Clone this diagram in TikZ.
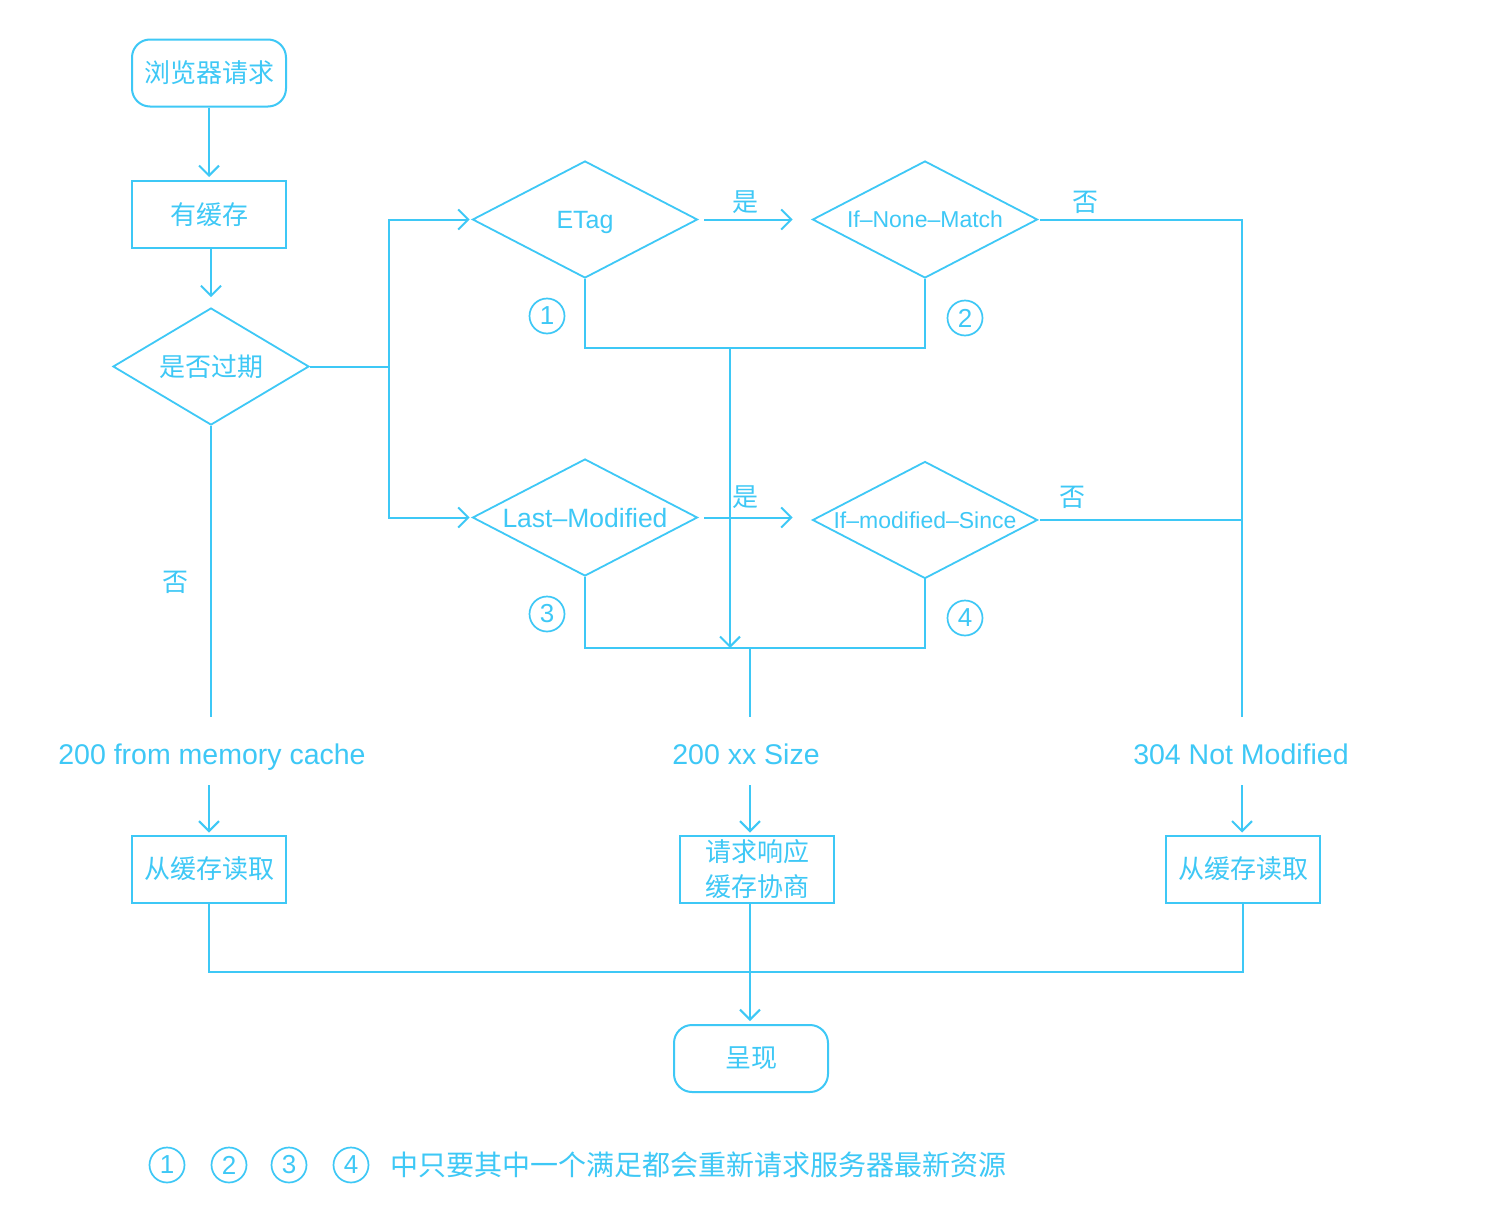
\documentclass[tikz,border=0pt]{standalone}
\usepackage{fontspec}
\setmainfont{Liberation Sans}
\newfontfamily\cjk{Noto Sans CJK SC}
\usetikzlibrary{shapes.geometric,arrows.meta}
\definecolor{flow}{RGB}{62,200,246}

\begin{document}
\begin{tikzpicture}[x=1pt,y=-1pt,
  every node/.style={text=flow},
  ln/.style={draw=flow, line width=2pt},
  arr/.style={ln, -{Straight Barb[length=10pt,width=20pt]}},
  cn/.style={font=\cjk\fontsize{26}{35}\selectfont},
  en/.style={font=\fontsize{28.5}{34}\selectfont},
  box/.style={draw=flow, line width=2pt, minimum width=154pt, minimum height=67pt, inner sep=0pt, cn},
  rbox/.style={box, rounded corners=18pt},
  dia/.style={diamond, draw=flow, line width=1.8pt, inner sep=0pt, aspect=1.92,
              minimum width=225pt, minimum height=117pt},
  latin/.style={font=\fontsize{#1}{#1}\selectfont, text height=0.716*#1 pt, text depth=0pt},
  num/.style={circle, draw=flow, line width=1.7pt, minimum size=35pt, inner sep=0pt,
              font=\fontsize{26}{26}\selectfont},
  result/.style={en, inner sep=0pt, text height=21pt, text depth=6pt},
  tag/.style={cn}
]
\useasboundingbox[fill=white] (0,0) rectangle (1492,1226);

% main column
\node[rbox] (start) at (209,73) {浏览器请求};
\node[box] (cache) at (209,214.5) {有缓存};
\node[dia, aspect=1.675, minimum width=196pt, cn] (expired) at (211,366.5) {是否过期};

% validators
\node[dia, text height=18pt, text depth=0pt, font=\fontsize{25}{30}\selectfont] (etag) at (585,219.5) {ETag};
\node[dia, text height=16.5pt, text depth=0pt, font=\fontsize{23}{28}\selectfont] (inm) at (925,219.5) {If–None–Match};
\node[dia, text height=19pt, text depth=0pt, font=\fontsize{26.5}{30}\selectfont] (lm) at (585,517.5) {Last–Modified};
\node[dia, text height=16.5pt, text depth=0pt, font=\fontsize{23}{28}\selectfont] (ims) at (925,520) {If–modified–Since};

\node[num] (n1) at (547,316) {1};
\node[num] (n2) at (965,318) {2};
\node[num] (n3) at (547,614) {3};
\node[num] (n4) at (965,618) {4};

% outcomes (baseline near y=764)
\node[result] (mem) at (212,756.5) {200 from memory cache};
\node[result] (size) at (746,756.5) {200 xx Size};
\node[result] (r304) at (1241,756.5) {304 Not Modified};

\node[box] (readL) at (209,869) {从缓存读取};
\node[box, align=center] (nego) at (757,869) {请求响应\\缓存协商};
\node[box] (readR) at (1243,869) {从缓存读取};
\node[rbox] (show) at (751,1058.5) {呈现};

% edge labels
\node[tag] (yes1) at (745,202) {是};
\node[tag] (yes2) at (745,497) {是};
\node[tag] (no1) at (1085,202) {否};
\node[tag] (no2) at (1072,497) {否};
\node[tag] (no0) at (175,582) {否};

% junction points
\coordinate (split) at (389,367);
\coordinate (ejoin) at (730,348);
\coordinate (lmerge) at (750,648);
\coordinate (rcol) at (1242,717);
\coordinate (bus) at (0,972);

% connectors
\draw[arr, shorten >=3pt] (start) -- (cache);
\draw[arr, shorten >=10pt] (expired.north |- cache.south) -- (expired.north);
\draw[ln] (expired.east) -- (expired.east -| split);
\draw[arr, shorten >=2pt] (split) |- (etag.west);
\draw[arr, shorten >=2pt] (split) |- (lm.west);

\draw[arr, shorten <=6pt, shorten >=19pt] (etag.east) -- (inm.west);
\draw[arr, shorten <=6pt, shorten >=19pt] (lm.east) -- (lm.east -| ims.west);

\draw[ln, shorten <=2pt] (inm.east) -| (rcol);
\draw[ln, shorten <=2pt] (ims.east) -- (ims.east -| rcol);

\draw[ln] (etag.south) |- (ejoin) -| (inm.south);
\draw[ln] (lm.south) |- (lmerge) -| (ims.south);
\draw[arr] (ejoin) -- (ejoin |- lmerge);
\draw[ln, shorten >=26pt] (lmerge) -- (lmerge |- size.north);

\draw[ln, shorten >=26pt] (expired.south) -- (expired.south |- mem.north);

\draw[arr, shorten <=15pt, shorten >=2pt] (readL.north |- mem.south) -- (readL.north);
\draw[arr, shorten <=15pt, shorten >=2pt] (size.south -| lmerge) -- (lmerge |- nego.north);
\draw[arr, shorten <=15pt, shorten >=2pt] (r304.south -| rcol) -- (readR.north -| rcol);

\draw[ln] (readL.south) -- (readL.south |- bus) -- (readR.south |- bus) -- (readR.south);
\draw[arr, shorten >=3pt] (nego.south -| lmerge) -- (lmerge |- show.north);

% footnote
\node[num] (f1) at (167,1165) {1};
\node[num] (f2) at (229,1165) {2};
\node[num] (f3) at (289,1165) {3};
\node[num] (f4) at (351,1165) {4};
\node[anchor=west, inner sep=0pt, font=\cjk\fontsize{28}{34}\selectfont] (note) at (390,1165)
  {中只要其中一个满足都会重新请求服务器最新资源};
\end{tikzpicture}
\end{document}
